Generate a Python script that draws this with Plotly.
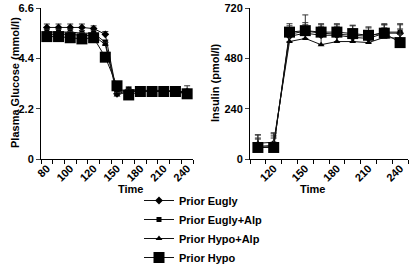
import plotly.graph_objects as go

# ---- data ----
glu_times = ["80", "90", "100", "110", "120", "135", "150", "165", "180", "195", "210", "225", "240"]
glu_labels = ["80", "", "100", "", "120", "", "150", "", "180", "", "210", "", "240"]
ins_times = ["110", "120", "135", "150", "165", "180", "195", "210", "225", "240"]
ins_labels = ["", "120", "", "150", "", "180", "", "210", "", "240"]

series_names = ["Prior Eugly", "Prior Eugly+Alp", "Prior Hypo+Alp", "Prior Hypo"]

glu_eugly = [5.75, 5.75, 5.75, 5.75, 5.7, 5.45, 2.85, 3.0, 3.0, 2.95, 3.0, 2.95, 2.95]
glu_eugly_alp = [5.55, 5.55, 5.55, 5.5, 5.5, 5.1, 2.9, 3.05, 3.0, 3.0, 3.0, 2.95, 2.9]
glu_hypo_alp = [5.45, 5.45, 5.45, 5.4, 5.4, 5.0, 2.8, 2.95, 2.95, 2.95, 2.95, 2.95, 2.85]
glu_hypo = [5.35, 5.35, 5.3, 5.25, 5.3, 4.45, 3.2, 2.8, 2.95, 2.95, 2.95, 2.95, 2.85]

glu_err_eugly = [0.15, 0.15, 0.15, 0.15, 0.12, 0.12, 0.1, 0.1, 0.1, 0.1, 0.1, 0.1, 0.1]
glu_err_eugly_alp = [0.12, 0.12, 0.12, 0.12, 0.1, 0.1, 0.1, 0.1, 0.1, 0.1, 0.1, 0.1, 0.1]
glu_err_hypo_alp = [0.12, 0.12, 0.12, 0.12, 0.1, 0.1, 0.1, 0.1, 0.1, 0.1, 0.1, 0.1, 0.35]
glu_err_hypo = [0.12, 0.12, 0.12, 0.12, 0.1, 0.1, 0.1, 0.1, 0.1, 0.1, 0.1, 0.1, 0.1]

ins_eugly = [60, 65, 585, 600, 590, 590, 580, 575, 600, 600]
ins_eugly_alp = [55, 60, 595, 610, 600, 595, 590, 585, 605, 605]
ins_hypo_alp = [75, 80, 560, 575, 545, 560, 560, 555, 580, 575]
ins_hypo = [55, 55, 605, 612, 605, 605, 598, 590, 600, 555]

ins_err_eugly = [40, 45, 40, 40, 40, 40, 40, 35, 40, 40]
ins_err_eugly_alp = [40, 40, 40, 40, 40, 45, 45, 40, 40, 40]
ins_err_hypo_alp = [40, 40, 40, 40, 40, 40, 40, 40, 45, 45]
ins_err_hypo = [60, 70, 40, 75, 40, 40, 40, 40, 40, 40]

# ---- styles ----
symbols = ["diamond", "square", "triangle-up", "square"]
sizes = [6, 5, 6, 11]
FONT = "Liberation Sans, Arial, sans-serif"

glu_vals = [glu_eugly, glu_eugly_alp, glu_hypo_alp, glu_hypo]
glu_errs = [glu_err_eugly, glu_err_eugly_alp, glu_err_hypo_alp, glu_err_hypo]
ins_vals = [ins_eugly, ins_eugly_alp, ins_hypo_alp, ins_hypo]
ins_errs = [ins_err_eugly, ins_err_eugly_alp, ins_err_hypo_alp, ins_err_hypo]

fig = go.Figure()
gx = list(range(len(glu_times)))
ix = list(range(len(ins_times)))

for i, name in enumerate(series_names):
    fig.add_trace(go.Scatter(
        x=gx, y=glu_vals[i], name=name, mode="lines+markers",
        line=dict(color="#111", width=1),
        marker=dict(symbol=symbols[i], size=sizes[i], color="black"),
        error_y=dict(type="data", symmetric=False, array=glu_errs[i],
                     arrayminus=[0] * len(gx), color="#333", thickness=1, width=3),
        xaxis="x", yaxis="y", showlegend=True, customdata=glu_times))
for i, name in enumerate(series_names):
    fig.add_trace(go.Scatter(
        x=ix, y=ins_vals[i], name=name, mode="lines+markers",
        line=dict(color="#111", width=1),
        marker=dict(symbol=symbols[i], size=sizes[i], color="black"),
        error_y=dict(type="data", symmetric=False, array=ins_errs[i],
                     arrayminus=[0] * len(ix), color="#333", thickness=1, width=3),
        xaxis="x2", yaxis="y2", showlegend=False, customdata=ins_times))

tickfont = dict(family=FONT, size=11, color="black", weight="bold")
L, R, T, B = 41, 1, 8, 107
W, H = 409, 266
pw = W - L - R
ph = H - T - B
d1 = [0, (193 - L) / pw]
d2 = [(250 - L) / pw, 1]

g_bounds = [k - 0.5 for k in range(len(glu_times) + 1)]
i_bounds = [k - 0.5 for k in range(len(ins_times) + 1)]

fig.update_layout(
    width=W, height=H,
    margin=dict(l=L, r=R, t=T, b=B, autoexpand=False),
    paper_bgcolor="white", plot_bgcolor="white",
    font=dict(family=FONT, size=11, color="black"),
    xaxis=dict(domain=d1, range=[-0.5, len(glu_times) - 0.5], tickvals=g_bounds,
               ticktext=[""] * len(g_bounds), ticks="outside", ticklen=4, tickcolor="black",
               showline=True, linecolor="black", linewidth=1, showgrid=False, zeroline=False,
               automargin=False),
    xaxis3=dict(overlaying="x", anchor="y", range=[-0.5, len(glu_times) - 0.5],
                tickvals=gx, ticktext=glu_labels, tickangle=-45, ticks="",
                showline=False, showgrid=False, zeroline=False, tickfont=tickfont, side="bottom",
                automargin=False),
    yaxis=dict(domain=[0, 1], range=[0, 6.6], tickvals=[0, 2.2, 4.4, 6.6],
               ticktext=["0", "2.2", "4.4", "6.6"], ticks="outside", ticklen=4,
               showline=True, linecolor="black", linewidth=1, showgrid=False,
               zeroline=False, tickfont=tickfont, anchor="x", automargin=False),
    xaxis2=dict(domain=d2, range=[-0.5, len(ins_times) - 0.5], tickvals=i_bounds,
                ticktext=[""] * len(i_bounds), ticks="outside", ticklen=4, tickcolor="black",
                showline=True, linecolor="black", linewidth=1, showgrid=False,
                zeroline=False, anchor="y2", automargin=False),
    xaxis4=dict(overlaying="x2", anchor="y2", range=[-0.5, len(ins_times) - 0.5],
                tickvals=ix, ticktext=ins_labels, tickangle=-45, ticks="",
                showline=False, showgrid=False, zeroline=False, tickfont=tickfont, side="bottom",
                automargin=False),
    yaxis2=dict(domain=[0, 1], range=[0, 720], tickvals=[0, 240, 480, 720],
                ticks="outside", ticklen=4, showline=True, linecolor="black", linewidth=1,
                showgrid=False, zeroline=False, tickfont=tickfont, anchor="x2", automargin=False),
    legend=dict(x=(139 - L) / pw, y=(159 - 186) / ph, xanchor="left", yanchor="top",
                font=dict(family=FONT, size=11, color="black", weight="bold"),
                bgcolor="rgba(0,0,0,0)", tracegroupgap=0, itemwidth=30),
    showlegend=True,
)

# dummy traces to activate overlay label axes
fig.add_trace(go.Scatter(x=[gx[0]], y=[None], xaxis="x3", yaxis="y", showlegend=False, hoverinfo="skip"))
fig.add_trace(go.Scatter(x=[ix[0]], y=[None], xaxis="x4", yaxis="y2", showlegend=False, hoverinfo="skip"))

ann_font = dict(family=FONT, size=11, color="black", weight="bold")
fig.add_annotation(text="Plasma Glucose (mmol/l)", textangle=-90, xref="paper", yref="paper",
                   x=(7 - L) / pw, y=(159 - 83) / ph, showarrow=False, font=ann_font)
fig.add_annotation(text="Insulin (pmol/l)", textangle=-90, xref="paper", yref="paper",
                   x=(215 - L) / pw, y=(159 - 83) / ph, showarrow=False, font=ann_font)
fig.add_annotation(text="Time", xref="paper", yref="paper",
                   x=(116 - L) / pw, y=(159 - 197) / ph, showarrow=False, font=ann_font)
fig.add_annotation(text="Time", xref="paper", yref="paper",
                   x=(327 - L) / pw, y=(159 - 197) / ph, showarrow=False, font=ann_font)

fig.write_html("out.html", config={"displayModeBar": False},
               post_script="document.body.style.margin='0';")
